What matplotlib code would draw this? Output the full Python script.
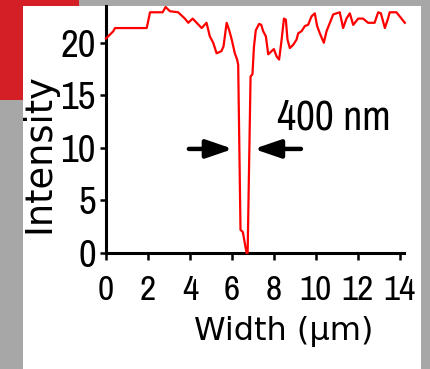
import matplotlib
matplotlib.use("Agg")
import matplotlib.pyplot as plt
from matplotlib.patches import Rectangle

###############################################################################
# Data (width in um, intensity in a.u.)
width_um = [0.00, 0.35, 0.43, 1.94, 2.10, 2.70, 2.84, 3.05, 3.44, 3.76,
            3.92, 4.13, 4.32, 4.56, 4.79, 4.95, 5.11, 5.27, 5.50, 5.60,
            5.75, 5.87, 5.98, 6.14, 6.25, 6.30, 6.41, 6.52, 6.70, 6.75,
            6.89, 6.98, 7.05, 7.14, 7.30, 7.40, 7.49, 7.62, 7.73, 7.89,
            8.00, 8.13, 8.25, 8.37, 8.48, 8.57, 8.65, 8.76, 8.92, 9.08,
            9.16, 9.32, 9.48, 9.63, 9.79, 9.95, 10.06, 10.19, 10.38, 10.51,
            10.67, 10.83, 11.14, 11.30, 11.46, 11.62, 11.78, 12.02, 12.25, 12.49,
            12.80, 12.97, 13.10, 13.29, 13.44, 13.52, 13.84, 14.00, 14.24]
intensity = [20.4, 21.1, 21.4, 21.4, 22.9, 22.9, 23.4, 23.0, 22.9, 22.3,
             21.9, 22.3, 21.9, 21.4, 21.9, 20.6, 20.0, 19.0, 19.2, 19.65,
             21.9, 21.2, 20.4, 19.0, 18.4, 17.9, 2.2, 2.0, 0.0, 0.0,
             16.8, 17.0, 19.6, 21.2, 21.8, 21.7, 21.1, 20.6, 18.9, 19.2,
             19.4, 18.7, 18.4, 20.3, 22.3, 22.2, 20.3, 19.5, 19.8, 20.3,
             20.9, 21.1, 21.6, 21.7, 22.5, 22.8, 21.6, 20.9, 20.0, 21.1,
             21.9, 22.7, 22.9, 21.4, 22.3, 22.8, 21.7, 22.3, 22.3, 21.9,
             21.9, 22.9, 22.8, 21.4, 22.3, 22.9, 22.9, 22.5, 21.9]

x_ticks = [0, 2, 4, 6, 8, 10, 12, 14]
y_ticks = [0, 5, 10, 15, 20]

# FWHM marker arrows: (tail x, tip x) at intensity 10
arrow_level = 9.9
arrow_left = (3.95, 6.05)
arrow_right = (9.29, 7.05)
fwhm_label = "400 nm"

# condensed face like the original slide; falls back to DejaVu if missing
narrow = ["Liberation Sans Narrow", "Archivo Narrow", "DejaVu Sans"]

###############################################################################
fig = plt.figure(figsize=(4.31, 3.69), dpi=100, facecolor="#a7a7a7")

# slide decoration: red corner block and white panel
fig.add_artist(Rectangle((0, 0.729), 0.1833, 0.271, transform=fig.transFigure,
                         facecolor="#d41f27", edgecolor="none", zorder=0))
fig.add_artist(Rectangle((0.0534, 0), 0.9234, 0.9837, transform=fig.transFigure,
                         facecolor="white", edgecolor="none", zorder=0))

ax = fig.add_axes([0.2459, 0.3144, 0.6914, 0.6694])
ax.patch.set_visible(False)

ax.plot(width_um, intensity, color="#ff0000", lw=1.6, clip_on=False, zorder=3)

ax.set_xlim(0, 14.2)
ax.set_ylim(0, 23.5)
ax.set_xticks(x_ticks)
ax.set_yticks(y_ticks)

for side in ("top", "right"):
    ax.spines[side].set_visible(False)
for side in ("left", "bottom"):
    ax.spines[side].set_linewidth(2.2)

ax.tick_params(axis="x", length=5, width=1.8, pad=10, labelsize=25.5)
ax.tick_params(axis="y", length=4.3, width=1.8, pad=3, labelsize=28)
for lab in ax.get_xticklabels() + ax.get_yticklabels():
    lab.set_family(narrow)

# arrows marking the 400 nm width
for tail, tip in (arrow_left, arrow_right):
    ax.annotate("", xy=(tip, arrow_level), xytext=(tail, arrow_level),
                arrowprops=dict(arrowstyle="-|>,head_length=1.6,head_width=0.55",
                                lw=3.2, color="black", shrinkA=0, shrinkB=0,
                                mutation_scale=10))
ax.text(8.16, 11.78, fwhm_label, ha="left", va="baseline", fontsize=30,
        family=narrow)

# axis titles placed by hand, like the original slide
fig.text(0.659, 0.0786, "Width (\u00b5m)", ha="center", va="baseline",
         fontsize=23, family="DejaVu Sans")
fig.text(0.0905, 0.585, "Intensity", ha="center", va="center", rotation=90,
         fontsize=26.5, family="DejaVu Sans")

fig.savefig("out.png", dpi=100, facecolor=fig.get_facecolor())
